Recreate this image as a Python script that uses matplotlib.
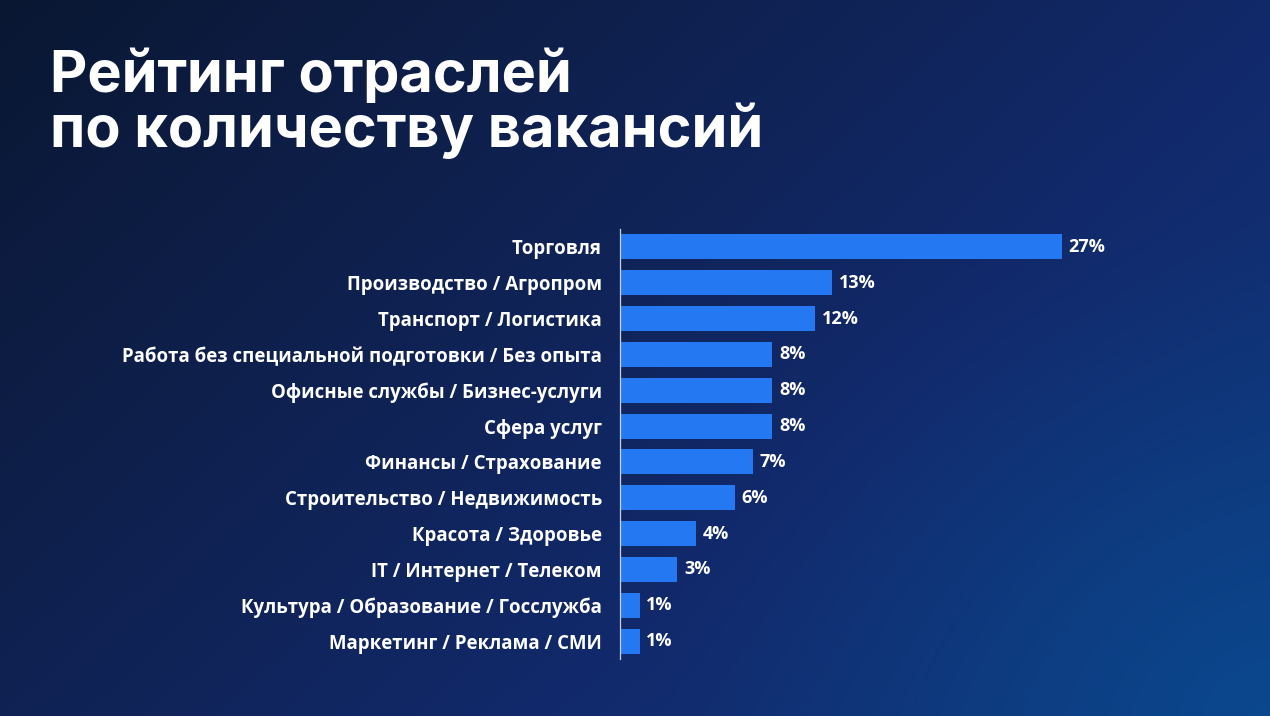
import numpy as np
import matplotlib
matplotlib.use("Agg")
import matplotlib.pyplot as plt
from matplotlib import font_manager as fm
from matplotlib.colors import LinearSegmentedColormap, to_rgb

# ---------------- data ----------------
categories = [
    "Торговля",
    "Производство / Агропром",
    "Транспорт / Логистика",
    "Работа без специальной подготовки / Без опыта",
    "Офисные службы / Бизнес-услуги",
    "Сфера услуг",
    "Финансы / Страхование",
    "Строительство / Недвижимость",
    "Красота / Здоровье",
    "IT / Интернет / Телеком",
    "Культура / Образование / Госслужба",
    "Маркетинг / Реклама / СМИ",
]
# bar lengths as drawn in the picture (in percent units)
bar_values = [27.0, 12.95, 11.9, 9.3, 9.3, 9.3, 8.1, 7.0, 4.65, 3.5, 1.2, 1.2]
value_labels = ["27%", "13%", "12%", "8%", "8%", "8%", "7%", "6%", "4%", "3%", "1%", "1%"]
title_lines = ["Рейтинг отраслей", "по количеству вакансий"]

W, H, DPI = 1270, 716, 100


def font_file(fname_end, size):
    for f in fm.fontManager.ttflist:
        if f.fname.endswith(fname_end):
            return fm.FontProperties(fname=f.fname, size=size)
    return fm.FontProperties(family="DejaVu Sans", weight="bold", size=size)


title_fp = font_file("/Inter-Bold.otf", 41.5)
label_fp = font_file("/OpenSans-Bold.ttf", 13.4)
value_fp = font_file("/OpenSans-Bold.ttf", 13.0)

fig = plt.figure(figsize=(W / DPI, H / DPI), dpi=DPI)

# ---------------- background gradient ----------------
bg = fig.add_axes([0, 0, 1, 1])
bg.set_axis_off()
yy, xx = np.mgrid[0:H, 0:W]
xn = xx / W
yn = yy / H
t = np.clip(0.62 * xn + 0.38 * yn, 0, 1)
cmap = LinearSegmentedColormap.from_list(
    "bg", [(0.0, "#0a1733"), (0.35, "#0f2150"), (0.65, "#122a6c"), (1.0, "#0f3a80")]
)
img = cmap(t)[..., :3]
# radial glow bottom-right
d = np.sqrt(((xx - W * 1.0) / 620.0) ** 2 + ((yy - H * 1.0) / 520.0) ** 2)
g = np.clip(1 - d, 0, 1) ** 1.5
glow = np.array(to_rgb("#0a4a90"))
img = img * (1 - g[..., None] * 0.85) + glow * (g[..., None] * 0.85)
bg.imshow(img, extent=[0, 1, 0, 1], aspect="auto", origin="upper", zorder=0)
bg.set_xlim(0, 1)
bg.set_ylim(0, 1)

# ---------------- bar chart ----------------
px_per_unit = 16.37
ax_left, ax_right = 620, 1220
ax_top, ax_bot = 229, 659
ax = fig.add_axes([ax_left / W, (H - ax_bot) / H, (ax_right - ax_left) / W, (ax_bot - ax_top) / H])
ax.set_facecolor("none")
y = np.arange(len(categories))
ax.barh(y, bar_values, height=0.7, color="#2479f2", zorder=2)
ax.set_xlim(0, (ax_right - ax_left) / px_per_unit)
ax.set_ylim(len(categories) - 0.5, -0.5)

for s in ["top", "right", "bottom"]:
    ax.spines[s].set_visible(False)
ax.spines["left"].set_color("#c8d0e6")
ax.spines["left"].set_linewidth(0.9)
ax.set_xticks([])
ax.set_yticks(y)
ax.set_yticklabels(categories, color="white", fontproperties=label_fp)
ax.tick_params(axis="y", length=0, pad=13)

for yi, v, lab in zip(y, bar_values, value_labels):
    ax.annotate(lab, (v, yi), xytext=(4.8, 0), textcoords="offset points",
                va="center", ha="left", color="white", fontproperties=value_fp)

# ---------------- title ----------------
fig.text(50 / W, (H - 92) / H, title_lines[0], fontproperties=title_fp,
         color="white", va="baseline", ha="left")
fig.text(50 / W, (H - 147) / H, title_lines[1], fontproperties=title_fp,
         color="white", va="baseline", ha="left")

fig.savefig("out.png", dpi=DPI)
